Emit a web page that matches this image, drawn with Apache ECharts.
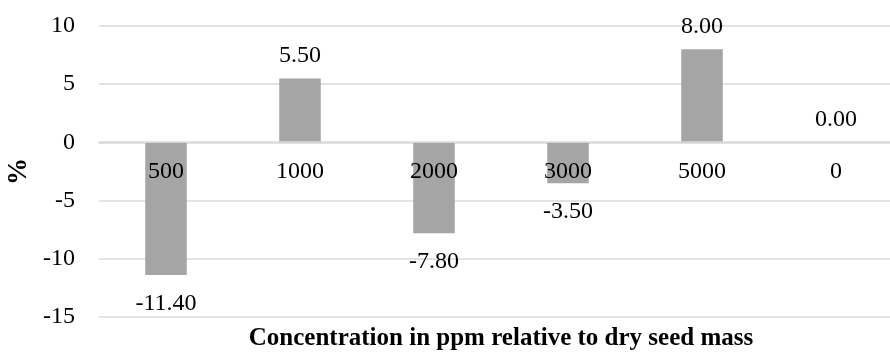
<!DOCTYPE html>
<html>
<head>
<meta charset="utf-8">
<script src="https://cdn.jsdelivr.net/npm/echarts@6/dist/echarts.min.js"></script>
<style>html,body{margin:0;padding:0;background:#fff;}#c{width:890px;height:352px;}</style>
</head>
<body>
<div id="c"></div>
<script>
const categories = ['500', '1000', '2000', '3000', '5000', '0'];
const values = [-11.40, 5.50, -7.80, -3.50, 8.00, 0.00];
const yTicks = { min: -15, max: 10, interval: 5 };
const xTitle = 'Concentration in ppm relative to dry seed mass';
const yTitle = '%';

const FONT = '"Liberation Serif", "Times New Roman", serif';
const chart = echarts.init(document.getElementById('c'), null, { renderer: 'canvas' });
chart.setOption({
  animation: false,
  textStyle: { fontFamily: FONT },
  grid: { left: 99, right: -13, top: 26, bottom: 35, containLabel: false, outerBoundsMode: 'none' },
  xAxis: {
    type: 'category',
    data: categories,
    offset: -175,
    z: 10,
    axisTick: { show: false },
    axisLine: { onZero: false, lineStyle: { color: '#d9d9d9', width: 1.5 } },
    axisLabel: { fontFamily: FONT, fontSize: 24, color: '#000', margin: 18 },
    name: xTitle,
    nameLocation: 'middle',
    nameGap: 184,
    nameTextStyle: { fontFamily: FONT, fontSize: 25, fontWeight: 'bold', color: '#000' }
  },
  yAxis: {
    type: 'value',
    min: yTicks.min, max: yTicks.max, interval: yTicks.interval,
    axisLine: { show: false },
    axisTick: { show: false },
    splitLine: { lineStyle: { color: '#d9d9d9', width: 1.5 } },
    axisLabel: { fontFamily: FONT, fontSize: 24, color: '#000', margin: 24 },
    name: yTitle,
    nameLocation: 'middle',
    nameGap: 61,
    nameRotate: 90,
    nameTextStyle: { fontFamily: FONT, fontSize: 27, fontWeight: 'bold', color: '#000' }
  },
  series: [{
    type: 'bar',
    barWidth: '31%',
    itemStyle: { color: '#a5a5a5' },
    data: values.map(v => ({
      value: v,
      label: { position: v < 0 ? 'bottom' : 'top', distance: v < 0 ? 17 : 11 }
    })),
    label: {
      show: true,
      fontFamily: FONT,
      fontSize: 24,
      color: '#000',
      formatter: p => Number(p.value).toFixed(2)
    }
  }]
});
</script>
</body>
</html>
